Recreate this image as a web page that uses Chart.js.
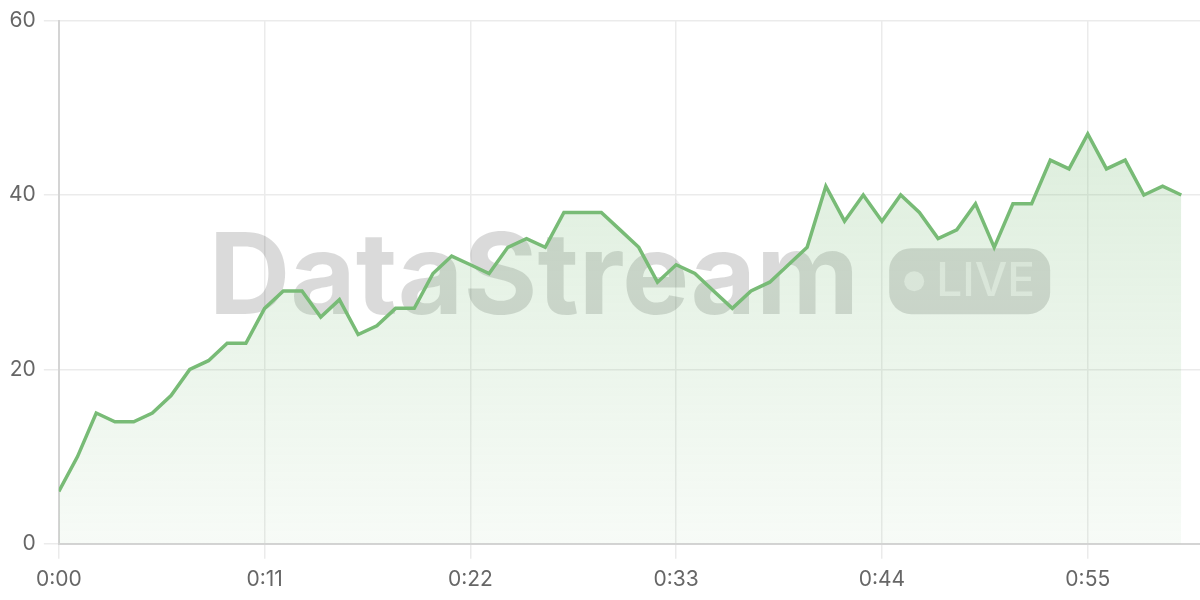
<!DOCTYPE html>
<html>
<head>
<meta charset="utf-8">
<script src="https://cdn.jsdelivr.net/npm/chart.js@4.4.1/dist/chart.umd.min.js"></script>
<style>
  html, body { margin: 0; padding: 0; background: #fff; }
  #wrap { width: 1200px; height: 600px; }
</style>
</head>
<body>
<div id="wrap"><canvas id="stream-chart"></canvas></div>
<script>
// seconds since start
const seconds = [];
for (let s = 0; s <= 60; s++) seconds.push(s);

// readings per second
const readings = [
  6, 10, 15, 14, 14, 15, 17, 20, 21, 23,
  23, 27, 29, 29, 26, 28, 24, 25, 27, 27,
  31, 33, 32, 31, 34, 35, 34, 38, 38, 38,
  36, 34, 30, 32, 31, 29, 27, 29, 30, 32,
  34, 41, 37, 40, 37, 40, 38, 35, 36, 39,
  34, 39, 39, 44, 43, 47, 43, 44, 40, 41,
  40
];

const yTicks = [0, 20, 40, 60];
const LINE_COLOR = '#78bb76';
const FONT = 'Inter, "Liberation Sans", sans-serif';

function fmtTime(v) {
  const m = Math.floor(v / 60);
  const s = v % 60;
  return m + ':' + String(s).padStart(2, '0');
}

// watermark, drawn under the line so the fill tints it
const watermark = {
  id: 'watermark',
  beforeDatasetsDraw(chart) {
    const { ctx, chartArea } = chart;
    const cx = (chartArea.left + chartArea.right) / 2;
    const cy = (chartArea.top + chartArea.bottom) / 2;
    ctx.save();
    ctx.fillStyle = 'rgba(0,0,0,0.145)';
    ctx.font = 'bold 113px ' + FONT;
    ctx.textBaseline = 'alphabetic';
    const word = 'DataStream';
    const wordW = ctx.measureText(word).width;
    const pillW = 161, pillH = 66, gap = 30;
    const total = wordW + gap + pillW;
    const x0 = cx - total / 2;
    const base = cy + 32;
    ctx.fillText(word, x0, base);

    const px = x0 + wordW + gap, py = base - pillH;
    ctx.beginPath();
    ctx.roundRect(px, py, pillW, pillH, 22);
    ctx.fill();

    ctx.fillStyle = 'rgba(255,255,255,0.55)';
    ctx.beginPath();
    ctx.arc(px + 25, py + pillH / 2, 10, 0, Math.PI * 2);
    ctx.fill();
    ctx.font = '500 46px ' + FONT;
    ctx.textBaseline = 'middle';
    ctx.fillText('LIVE', px + 47, py + pillH / 2 + 1);
    ctx.restore();
  }
};

const ctx = document.getElementById('stream-chart').getContext('2d');
new Chart(ctx, {
  type: 'line',
  data: {
    datasets: [{
      data: seconds.map((s, i) => ({ x: s, y: readings[i] })),
      borderColor: LINE_COLOR,
      borderWidth: 3.5,
      pointRadius: 0,
      tension: 0,
      fill: 'origin',
      backgroundColor: function(context) {
        const area = context.chart.chartArea;
        if (!area) return 'rgba(120,187,118,0.15)';
        const g = context.chart.ctx.createLinearGradient(0, area.top, 0, area.bottom);
        g.addColorStop(0, 'rgba(120,187,118,0.30)');
        g.addColorStop(1, 'rgba(120,187,118,0.06)');
        return g;
      }
    }]
  },
  options: {
    responsive: true,
    maintainAspectRatio: false,
    animation: false,
    layout: { padding: { top: 8, right: 0, left: 1, bottom: 0 } },
    plugins: {
      legend: { display: false },
      tooltip: { enabled: false }
    },
    scales: {
      x: {
        type: 'linear',
        min: 0,
        max: 61,
        ticks: {
          stepSize: 11,
          includeBounds: false,
          color: '#666',
          font: { family: FONT, size: 21 },
          padding: 8,
          maxRotation: 0,
          callback: v => fmtTime(v)
        },
        grid: { color: '#ebebeb', lineWidth: 1.5, tickLength: 15 },
        border: { color: '#d4d4d4', width: 2 }
      },
      y: {
        min: 0,
        max: 60,
        afterBuildTicks: axis => { axis.ticks = yTicks.map(v => ({ value: v })); },
        ticks: {
          color: '#666',
          font: { family: FONT, size: 21 },
          padding: 8
        },
        grid: { color: '#ebebeb', lineWidth: 1.5, tickLength: 15 },
        border: { color: '#d4d4d4', width: 2 }
      }
    }
  },
  plugins: [watermark]
});
</script>
</body>
</html>
